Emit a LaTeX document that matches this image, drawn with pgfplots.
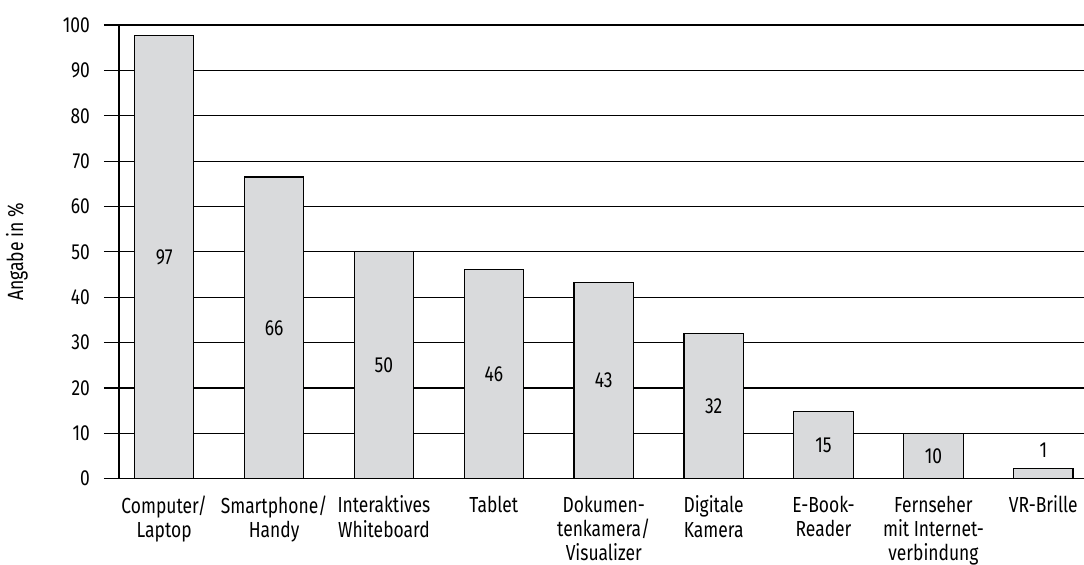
\documentclass[border=0pt]{standalone}
\usepackage{fontspec}
\setmainfont{Fira Sans}[FakeStretch=0.8]
\usepackage{pgfplots}
\usepackage{pgfplotstable}
\pgfplotsset{compat=1.18}
\definecolor{barfill}{RGB}{217,218,220}
\pgfplotstableread{
x h mid lab
0 97.6 48.8 97
1 66.5 33.25 66
2 50.1 25.05 50
3 46.1 23.05 46
4 43.2 21.6 43
5 32.0 16.0 32
6 14.9 7.45 15
7 9.9 4.95 10
8 2.2 6.2 1
}\data
\begin{document}
\begin{tikzpicture}
\begin{axis}[
  name=ax,
  scale only axis,
  width=482.5pt, height=226.85pt,
  xmin=-0.411, xmax=8.37,
  ymin=0, ymax=100,
  ytick={0,10,...,100},
  xtick={0,...,8},
  xticklabels={{Computer/\\Laptop},{Smartphone/\\Handy},{Interaktives\\Whiteboard},{Tablet},{Dokumen-\\tenkamera/\\Visualizer},{Digitale\\Kamera},{E-Book-\\Reader},{Fernseher\\mit Internet-\\verbindung},{VR-Brille}},
  xticklabel style={align=center, font=\fontsize{10.9}{12.2}\selectfont, yshift=2.5pt},
  yticklabel style={font=\fontsize{10.9}{12}\selectfont, xshift=-3.5pt},
  /pgf/number format/assume math mode=true,
  axis lines*=left,
  axis line style={black, line width=0.6pt},
  tick align=outside,
  major tick length=7.5pt,
  ytick style={black, line width=0.6pt},
  xtick style={draw=none},
  ymajorgrids,
  grid style={black, line width=0.6pt},
  ylabel={Angabe in \%},
  every axis y label/.style={at={(axis description cs:-0.1057,0.5)}, rotate=90, anchor=center, font=\fontsize{11}{12}\selectfont},
  clip=false,
]
\addplot[ybar, bar width=0.54, fill=barfill, draw=black, line width=0.6pt] table[x=x, y=h] {\data};
\addplot[draw=none, mark=none, nodes near coords, point meta=explicit symbolic,
  every node near coord/.style={anchor=center, font=\fontsize{10.9}{12}\selectfont, black}]
  table[x=x, y=mid, meta=lab] {\data};
\end{axis}
\pgfresetboundingbox
\path[use as bounding box] ([shift={(-59.5pt,-42.65pt)}]ax.south west) rectangle ([shift={(482.5pt,239.35pt)}]ax.south west);
\end{tikzpicture}
\end{document}
